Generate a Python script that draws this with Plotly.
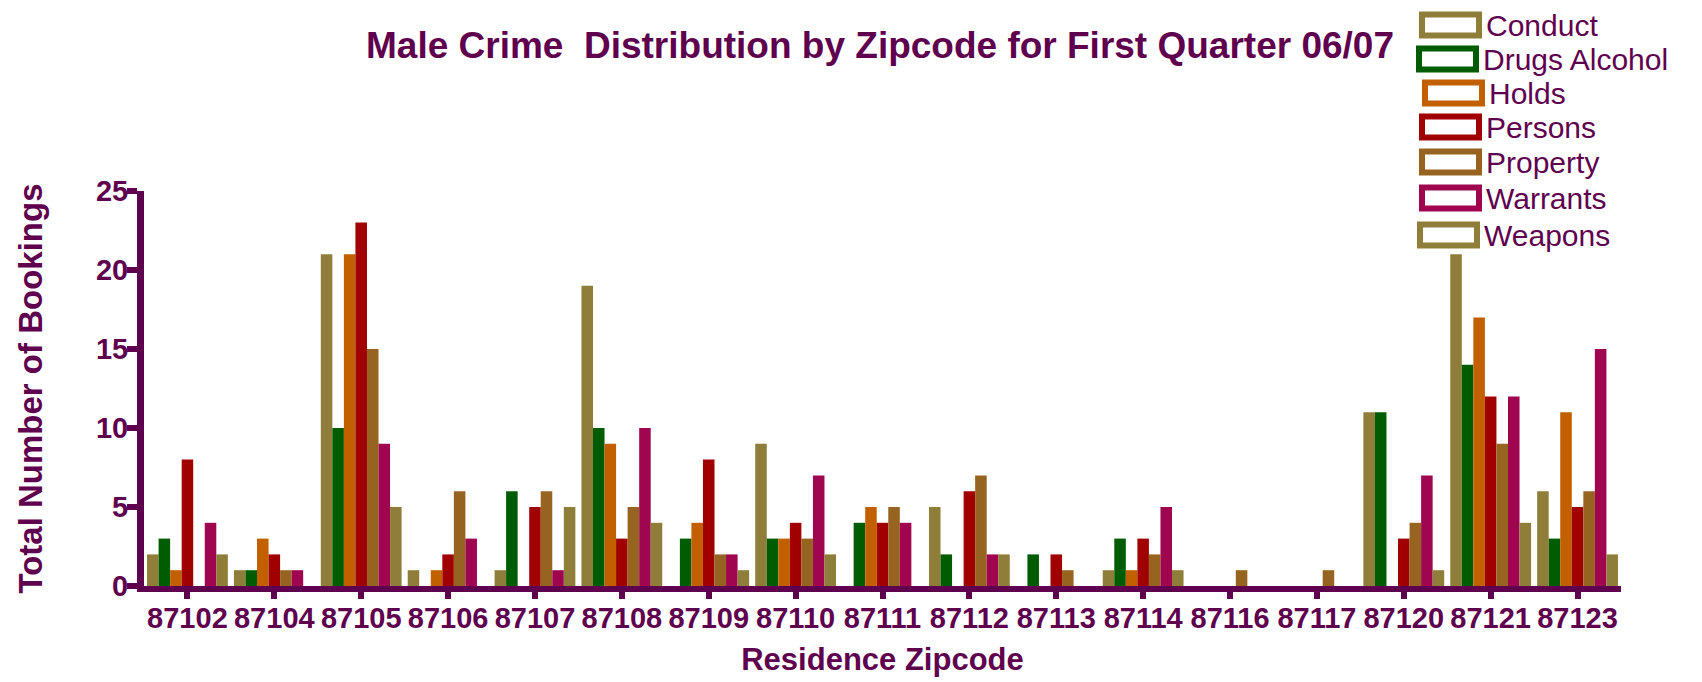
import plotly.graph_objects as go

# ---------------- data ----------------
zipcodes = ["87102", "87104", "87105", "87106", "87107", "87108", "87109", "87110", "87111",
            "87112", "87113", "87114", "87116", "87117", "87120", "87121", "87123"]

conduct = [2, 1, 21, 1, 1, 19, 0, 9, 0, 5, 0, 1, 0, 0, 11, 21, 6]
drugs_alcohol = [3, 1, 10, 0, 6, 10, 3, 3, 4, 2, 2, 3, 0, 0, 11, 14, 3]
holds = [1, 3, 21, 1, 0, 9, 4, 3, 5, 0, 0, 1, 0, 0, 0, 17, 11]
persons = [8, 2, 23, 2, 5, 3, 8, 4, 4, 6, 2, 3, 0, 0, 3, 12, 5]
property_ = [0, 1, 15, 6, 6, 5, 2, 3, 5, 7, 1, 2, 1, 1, 4, 9, 6]
warrants = [4, 1, 9, 3, 1, 10, 2, 7, 4, 2, 0, 5, 0, 0, 7, 12, 15]
weapons = [2, 0, 5, 0, 5, 4, 1, 2, 0, 2, 0, 1, 0, 0, 1, 4, 2]

series_names = ["Conduct", "Drugs Alcohol", "Holds", "Persons", "Property", "Warrants", "Weapons"]
series_values = [conduct, drugs_alcohol, holds, persons, property_, warrants, weapons]
series_colors = ["#8F7E3A", "#005C00", "#C26000", "#A00000", "#966420", "#A00550", "#8F7E3A"]

y_ticks = [0, 5, 10, 15, 20, 25]

# ---------------- styling ----------------
PURPLE = "#5F004F"
FONT = "Liberation Sans, Arial, sans-serif"
# the html page body has an 8px default margin; size the figure so it fits the window
W, H = 1694, 674
ML, MR, MT, MB = 136, 81, 183, 96
PW = W - ML - MR
PH = H - MT - MB

fig = go.Figure()
for name, vals, col in zip(series_names, series_values, series_colors):
    fig.add_trace(go.Bar(
        x=zipcodes, y=vals, name=name,
        marker=dict(color=col, line=dict(width=0)),
        showlegend=False,
    ))

# custom legend: outlined boxes with labels (pixel layout converted to paper coords)
legend_centers_px = [17, 51, 85, 119, 154, 190, 227]
legend_dx_px = [0, -3, 3, 0, 0, 0, -2]
box_x0_px, box_x1_px, box_h_px = 1414, 1471, 21
text_x_px = 1476


def px_to_paper_x(px):
    return (px - ML) / PW


def px_to_paper_y(py):
    return (H - MB - py) / PH


shapes = []
annotations = []
for name, col, cy, dx in zip(series_names, series_colors, legend_centers_px, legend_dx_px):
    shapes.append(dict(
        type="rect", xref="paper", yref="paper",
        x0=px_to_paper_x(box_x0_px + dx), x1=px_to_paper_x(box_x1_px + dx),
        y0=px_to_paper_y(cy + box_h_px / 2), y1=px_to_paper_y(cy - box_h_px / 2),
        line=dict(color=col, width=6), fillcolor="white", layer="above",
    ))
    annotations.append(dict(
        xref="paper", yref="paper",
        x=px_to_paper_x(text_x_px + dx), y=px_to_paper_y(cy),
        xanchor="left", yanchor="middle", showarrow=False,
        text=name, font=dict(family=FONT, size=30, color=PURPLE),
    ))

fig.update_layout(
    width=W, height=H,
    margin=dict(l=ML, r=MR, t=MT, b=MB, autoexpand=False),
    paper_bgcolor="white", plot_bgcolor="white",
    barmode="group", bargap=0.07, bargroupgap=0,
    title=dict(
        text="Male Crime  Distribution by Zipcode for First Quarter 06/07",
        xref="container", yref="container",
        x=872 / W, y=1 - 37 / H, xanchor="center", yanchor="middle",
        font=dict(family=FONT, size=37, color=PURPLE, weight="bold"),
    ),
    xaxis=dict(
        type="category", range=[-0.5, len(zipcodes) - 0.5],
        showline=True, linecolor=PURPLE, linewidth=6,
        ticks="outside", ticklen=7, tickwidth=6, tickcolor=PURPLE,
        ticklabelstandoff=-6,
        tickfont=dict(family=FONT, size=29, color=PURPLE, weight="bold"),
        showgrid=False, zeroline=False,
        title=dict(text="Residence Zipcode", standoff=18,
                   font=dict(family=FONT, size=31, color=PURPLE, weight="bold")),
    ),
    yaxis=dict(
        range=[0, 25], tickvals=y_ticks,
        showline=True, linecolor=PURPLE, linewidth=7,
        ticks="outside", ticklen=10, tickwidth=6, tickcolor=PURPLE,
        ticklabelstandoff=-7,
        tickfont=dict(family=FONT, size=29, color=PURPLE, weight="bold"),
        showgrid=False, zeroline=False,
        title=dict(text="Total Number of Bookings", standoff=46,
                   font=dict(family=FONT, size=33, color=PURPLE, weight="bold")),
    ),
    shapes=shapes,
    annotations=annotations,
)

fig.write_html("out.html")
